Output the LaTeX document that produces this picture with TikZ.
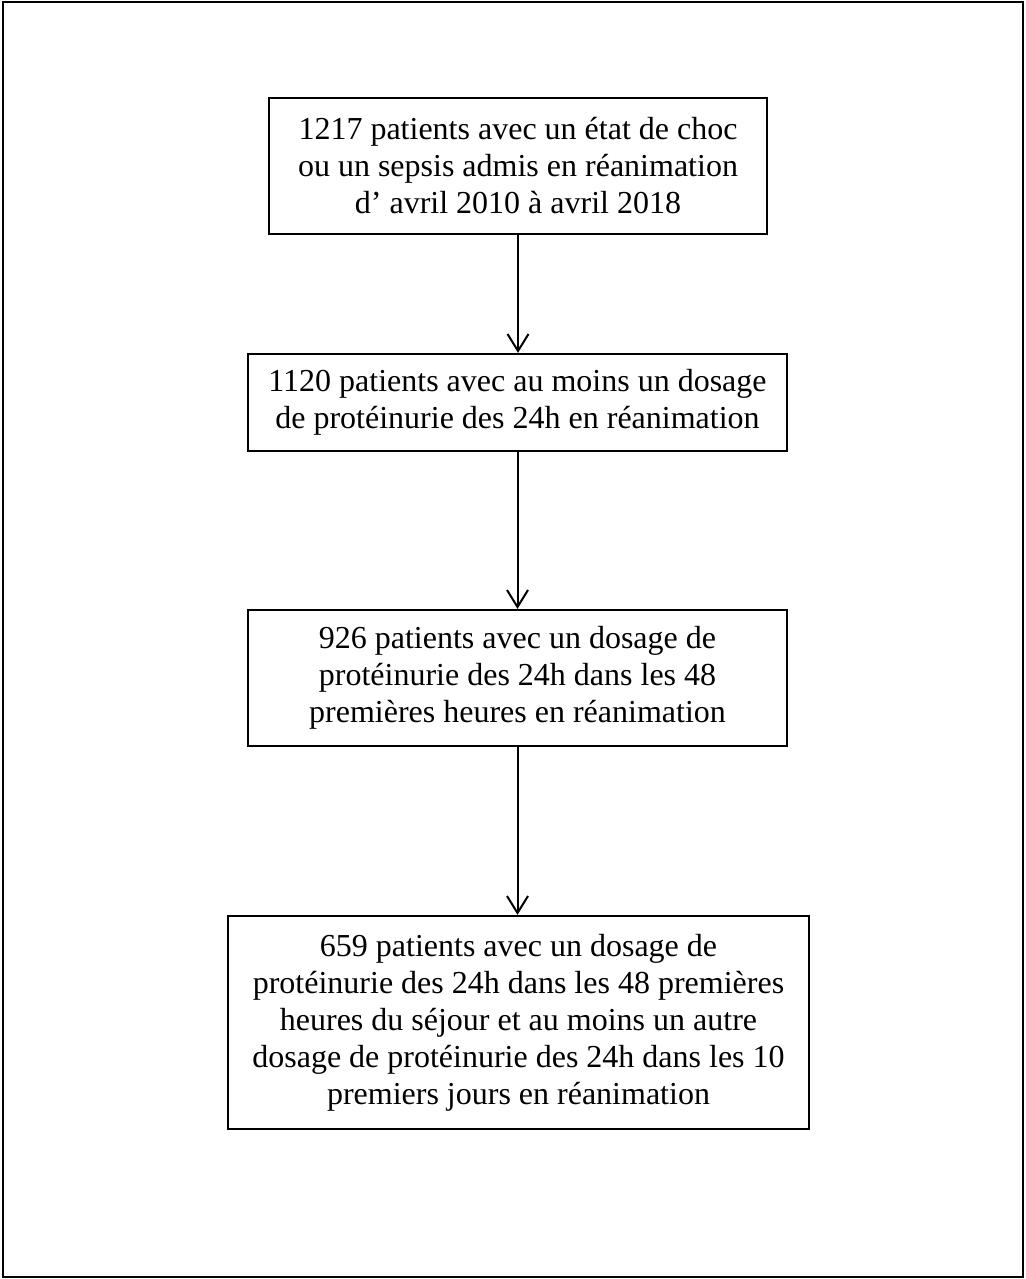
\documentclass[tikz,border=0pt]{standalone}
\usepackage{fontspec}
\setmainfont{Liberation Serif}
\usetikzlibrary{arrows.meta}
\begin{document}
\begin{tikzpicture}[x=0.5pt,y=-0.5pt,
  stepbox/.style={draw=black, line width=1.1pt, inner sep=0pt, align=center,
    font=\fontsize{16}{18.5}\selectfont},
  flow/.style={line width=1pt, -{Straight Barb[length=8.5pt,width=10.5pt,line width=1pt]}}]
\useasboundingbox (0,0) rectangle (1026,1279);
\draw[line width=1.1pt] (3,2) rectangle (1023,1277);
\node[stepbox, minimum width=249pt, minimum height=68pt] (b1) at (518,166)
  {1217 patients avec un état de choc\\ou un sepsis admis en réanimation\\d’ avril 2010 à avril 2018};
\node[stepbox, minimum width=269.5pt, minimum height=48.5pt] (b2) at (517.5,402.5)
  {1120 patients avec au moins un dosage\\de protéinurie des 24h en réanimation};
\node[stepbox, minimum width=269.5pt, minimum height=68pt] (b3) at (517.5,678)
  {926 patients avec un dosage de\\protéinurie des 24h dans les 48\\premières heures en réanimation};
\node[stepbox, minimum width=290.5pt, minimum height=106.5pt] (b4) at (518.5,1022.5)
  {659 patients avec un dosage de\\protéinurie des 24h dans les 48 premières\\heures du séjour et au moins un autre\\dosage de protéinurie des 24h dans les 10\\premiers jours en réanimation};
\draw[flow] (b1.south) -- (b1.south |- b2.north);
\draw[flow] (b2.south) -- (b2.south |- b3.north);
\draw[flow] (b3.south) -- (b3.south |- b4.north);
\end{tikzpicture}
\end{document}
